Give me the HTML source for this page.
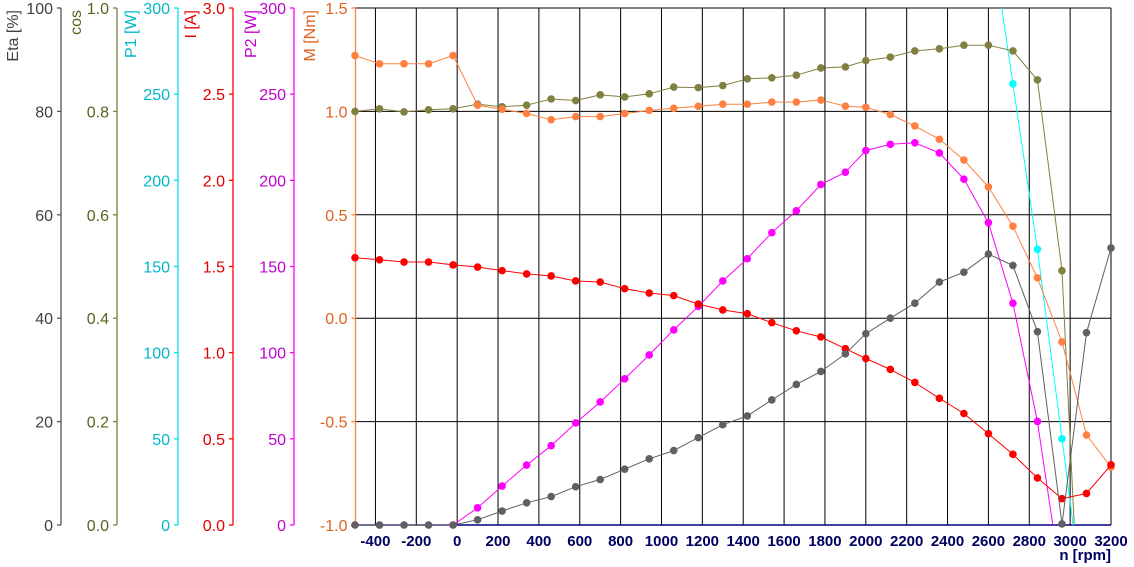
<!DOCTYPE html>
<html><head><meta charset="utf-8"><style>
html,body{margin:0;padding:0;background:#fff;width:1134px;height:567px;overflow:hidden}
svg{display:block;font-family:"Liberation Sans",Arial,sans-serif}
</style></head><body>
<svg id="chart" width="1134" height="567" viewBox="0 0 1134 567" xmlns="http://www.w3.org/2000/svg">
<g id="grid"></g>
<g id="axes"></g>
<g id="series"></g>
</svg>
<script>
const rpm = [-500,-380,-260,-140,-20,100,220,340,460,580,700,820,940,1060,1180,1300,1420,1540,1660,1780,1900,2000,2120,2240,2360,2480,2600,2720,2840,2960,3080,3200];
const etaVals = [0,0,0,0,0,1.0,2.7,4.3,5.5,7.4,8.8,10.8,12.8,14.4,16.9,19.4,21.1,24.2,27.2,29.7,33.1,37.0,40.0,42.9,47.0,48.9,52.4,50.2,37.4,0.2,37.2,53.6];
const cosVals = [0.8,0.805,0.799,0.803,0.805,0.814,0.809,0.812,0.824,0.821,0.832,0.828,0.834,0.847,0.846,0.850,0.863,0.865,0.870,0.884,0.886,0.898,0.905,0.917,0.921,0.928,0.928,0.917,0.861,0.492,-0.49,null];
const p1Vals = [null,null,null,null,null,null,null,null,null,null,null,null,null,null,null,null,null,null,null,null,null,null,null,null,null,400,352,256,160,50,-60,null];
const iVals = [1.551,1.539,1.526,1.526,1.509,1.497,1.476,1.457,1.445,1.416,1.410,1.371,1.346,1.331,1.282,1.248,1.226,1.174,1.127,1.091,1.023,0.966,0.903,0.827,0.735,0.647,0.530,0.410,0.273,0.153,0.183,0.349];
const p2Vals = [0,0,0,0,0,10.0,22.6,34.8,46.0,59.2,71.4,84.8,98.7,113.2,126.8,141.6,154.5,169.6,182.3,197.6,204.7,217.3,220.9,221.8,215.9,200.7,175.4,128.7,60.1,-36,null,null];
const mVals = [1.27,1.23,1.23,1.23,1.27,1.03,1.01,0.99,0.96,0.975,0.975,0.99,1.005,1.015,1.025,1.035,1.035,1.045,1.045,1.055,1.025,1.02,0.985,0.93,0.865,0.765,0.635,0.445,0.195,-0.115,-0.565,-0.72];
const xTicks = [-400,-200,0,200,400,600,800,1000,1200,1400,1600,1800,2000,2200,2400,2600,2800,3000,3200];
const mTicks = ["-1.0","-0.5","0.0","0.5","1.0","1.5"];
const etaTicks = ["0","20","40","60","80","100"];
const cosTicks = ["0.0","0.2","0.4","0.6","0.8","1.0"];
const p1Ticks = ["0","50","100","150","200","250","300"];
const iTicks = ["0.0","0.5","1.0","1.5","2.0","2.5","3.0"];
const p2Ticks = ["0","50","100","150","200","250","300"];

const NS="http://www.w3.org/2000/svg";
const X0=355,X1=1111,Y0=8,Y1=525;
const xs=v=>X0+(v+500)/3700*(X1-X0);
const ys=(v,lo,hi)=>Y1-(v-lo)/(hi-lo)*(Y1-Y0);
function mk(tag,attrs,parent){const e=document.createElementNS(NS,tag);for(const k in attrs)e.setAttribute(k,attrs[k]);parent.appendChild(e);return e;}
const grid=document.getElementById('grid'),axes=document.getElementById('axes'),ser=document.getElementById('series');

xTicks.forEach(t=>{const l=mk('line',{x1:xs(t),x2:xs(t),y1:Y0,y2:Y1,stroke:'#000','stroke-width':1},grid);

});
mTicks.forEach(t=>{const v=parseFloat(t);if(v<=-1)return;const y=ys(v,-1,1.5);const l=mk('line',{x1:X0,x2:X1,y1:y,y2:y,stroke:'#000','stroke-width':1},grid);

});

const xa=mk('line',{x1:X0,x2:X1,y1:Y1,y2:Y1,stroke:'#000080','stroke-width':1.5},axes);


xTicks.forEach(t=>{const tx=mk('text',{x:xs(t),y:546,'text-anchor':'middle','font-size':15,'font-weight':'bold',fill:'#000060'},axes);tx.textContent=t;

});
const xt=mk('text',{x:X1,y:560,'text-anchor':'end','font-size':15,'font-weight':'bold',fill:'#000060'},axes);xt.textContent='n [rpm]';



const yAxes=[
 {name:'eta',x:61,color:'#555555',text:'#404040',ticks:etaTicks,title:'Eta [%]',tx:18},
 {name:'cos',x:117,color:'#808040',text:'#606020',ticks:cosTicks,title:'cos',tx:81},
 {name:'p1',x:178,color:'#00e0f0',text:'#00b8c8',ticks:p1Ticks,title:'P1 [W]',tx:136},
 {name:'i',x:233,color:'#ff0000',text:'#e00000',ticks:iTicks,title:'I [A]',tx:196},
 {name:'p2',x:294,color:'#ff00ff',text:'#c000d0',ticks:p2Ticks,title:'P2 [W]',tx:256},
 {name:'m',x:355.5,color:'#ff8040',text:'#e06020',ticks:mTicks,title:'M [Nm]',tx:315}
];
yAxes.forEach(a=>{
 const l=mk('line',{x1:a.x,x2:a.x,y1:Y0,y2:Y1,stroke:a.color,'stroke-width':1.3},axes);
 
 
 const n=a.ticks.length;
 a.ticks.forEach((t,i)=>{const y=Y1-i/(n-1)*(Y1-Y0);
  mk('line',{x1:a.x-4,x2:a.x,y1:y,y2:y,stroke:a.color,'stroke-width':1.3},axes);
  const tx=mk('text',{x:a.x-8,y:y+6,'text-anchor':'end','font-size':16,fill:a.text},axes);tx.textContent=t;
  
  });
 const tt=mk('text',{x:a.tx,y:Y0+2,'text-anchor':'end','font-size':16,fill:a.text,transform:`rotate(-90 ${a.tx} ${Y0+2})`},axes);
 tt.textContent=a.title;
 
 
});

// clip a segment vertically to the plot band
function clipSeg(xa,ya,xb,yb){
 let t0=0,t1=1;const dy=yb-ya;
 if(dy===0){if(ya<Y0||ya>Y1)return null;}
 else{
  let ta=(Y0-ya)/dy,tb=(Y1-ya)/dy;if(ta>tb){const s=ta;ta=tb;tb=s;}
  t0=Math.max(t0,ta);t1=Math.min(t1,tb);if(t0>t1)return null;
 }
 return [xa+(xb-xa)*t0,ya+dy*t0,xa+(xb-xa)*t1,ya+dy*t1];
}

const seriesList=[
 {name:'p1-series',vals:p1Vals,lo:0,hi:300,color:'#00ffff'},
 {name:'p2-series',vals:p2Vals,lo:0,hi:300,color:'#ff00ff'},
 {name:'cos-series',vals:cosVals,lo:0,hi:1,color:'#808040'},
 {name:'m-series',vals:mVals,lo:-1,hi:1.5,color:'#ff8040'},
 {name:'i-series',vals:iVals,lo:0,hi:3,color:'#ff0000'},
 {name:'eta-series',vals:etaVals,lo:0,hi:100,color:'#606060'}
];
seriesList.forEach(s=>{
 const g=mk('g',{},ser);
 
 
 let d='';
 for(let i=0;i<s.vals.length-1;i++){
  const a=s.vals[i],b=s.vals[i+1];if(a===null||b===null)continue;
  const c=clipSeg(xs(rpm[i]),ys(a,s.lo,s.hi),xs(rpm[i+1]),ys(b,s.lo,s.hi));
  if(c)d+=`M${c[0].toFixed(1)} ${c[1].toFixed(1)}L${c[2].toFixed(1)} ${c[3].toFixed(1)}`;
 }
 mk('path',{d:d,fill:'none',stroke:s.color,'stroke-width':1},g);
 s.vals.forEach((v,i)=>{if(v===null)return;const y=ys(v,s.lo,s.hi);if(y<Y0-1||y>Y1+1)return;
  const c=mk('circle',{cx:xs(rpm[i]),cy:y,r:3.8,fill:s.color},g);
  
  });
});
</script>
</body></html>
